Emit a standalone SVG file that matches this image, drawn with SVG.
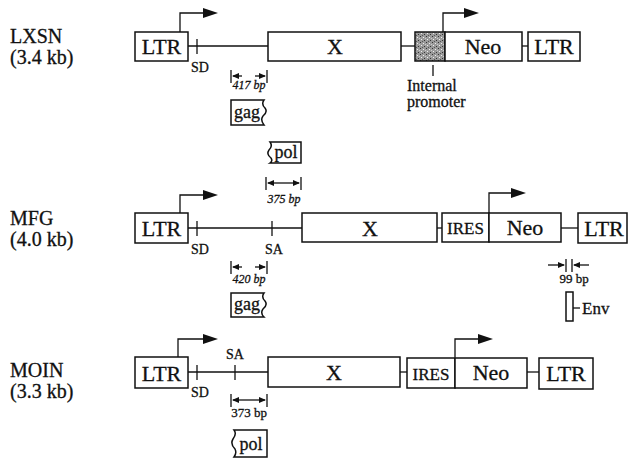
<svg xmlns="http://www.w3.org/2000/svg" width="628" height="459" viewBox="0 0 628 459">
<defs>
<style>
text{font-family:"Liberation Serif","Times New Roman",serif;fill:#111;stroke:#111;stroke-width:0.3}
.box{fill:#fff;stroke:#111;stroke-width:1.5}
.ln{stroke:#111;stroke-width:1.3;fill:none}
.big{font-size:22px}
.lab{font-size:20px}
.sm{font-size:14px}
.bp{font-size:12px;font-style:italic}
.mid{text-anchor:middle}
.head{fill:#111}
</style>
<pattern id="stip" width="6" height="6" patternUnits="userSpaceOnUse">
<rect width="6" height="6" fill="#9a9a9a"/>
<rect x="0" y="0" width="1" height="1" fill="#333"/>
<rect x="3" y="1" width="1" height="1" fill="#eee"/>
<rect x="1" y="3" width="1" height="1" fill="#eee"/>
<rect x="4" y="4" width="1" height="1" fill="#333"/>
<rect x="2" y="5" width="1" height="1" fill="#555"/>
<rect x="5" y="2" width="1" height="1" fill="#ccc"/>
</pattern>
</defs>

<!-- Left titles -->
<g id="title-lxsn"><text class="lab" x="10" y="43">LXSN</text><text class="lab" x="10" y="64">(3.4 kb)</text></g>
<g id="title-mfg"><text class="lab" x="10" y="225">MFG</text><text class="lab" x="10" y="246">(4.0 kb)</text></g>
<g id="title-moin"><text class="lab" x="10" y="377">MOIN</text><text class="lab" x="10" y="398">(3.3 kb)</text></g>

<!-- connectors / backbone lines -->
<g id="connectors">
<!-- LXSN -->
<line class="ln" x1="188" y1="46" x2="268" y2="46"/>
<line class="ln" x1="401" y1="46" x2="415" y2="46"/>
<line class="ln" x1="522" y1="46" x2="528" y2="46"/>
<line class="ln" x1="197" y1="39" x2="197" y2="54"/>
<line class="ln" x1="433" y1="65" x2="433" y2="76"/>
<path class="ln" d="M180,32 V13 H205"/><polygon class="head" points="203,8 218,13 203,18"/>
<path class="ln" d="M443,32 V13 H466"/><polygon class="head" points="464,8 479,13 464,18"/>
<!-- 417 bp -->
<line class="ln" x1="231" y1="70" x2="231" y2="83"/><line class="ln" x1="267" y1="70" x2="267" y2="83"/>
<line class="ln" x1="233" y1="76" x2="242" y2="76"/><polygon class="head" points="232,76 239,73 239,79"/>
<line class="ln" x1="255" y1="76" x2="265" y2="76"/><polygon class="head" points="266,76 259,73 259,79"/>
<!-- 375 bp -->
<line class="ln" x1="266" y1="177" x2="266" y2="190"/><line class="ln" x1="301" y1="177" x2="301" y2="190"/>
<line class="ln" x1="268" y1="183" x2="299" y2="183"/>
<polygon class="head" points="267,183 274,180 274,186"/><polygon class="head" points="300,183 293,180 293,186"/>

<!-- MFG -->
<line class="ln" x1="188" y1="228" x2="302" y2="228"/>
<line class="ln" x1="437" y1="228" x2="442" y2="228"/>
<line class="ln" x1="561" y1="228" x2="578" y2="228"/>
<line class="ln" x1="197" y1="221" x2="197" y2="236"/>
<line class="ln" x1="272" y1="221" x2="272" y2="236"/>
<path class="ln" d="M180,213 V195 H205"/><polygon class="head" points="203,190 218,195 203,200"/>
<path class="ln" d="M489,213 V193 H513"/><polygon class="head" points="511,188 526,193 511,198"/>
<!-- 420 bp -->
<line class="ln" x1="231" y1="261" x2="231" y2="274"/><line class="ln" x1="267" y1="261" x2="267" y2="274"/>
<line class="ln" x1="233" y1="267" x2="242" y2="267"/><polygon class="head" points="232,267 239,264 239,270"/>
<line class="ln" x1="255" y1="267" x2="265" y2="267"/><polygon class="head" points="266,267 259,264 259,270"/>
<!-- 99 bp -->
<line class="ln" x1="566" y1="259" x2="566" y2="272"/><line class="ln" x1="572" y1="259" x2="572" y2="272"/>
<line class="ln" x1="548" y1="265" x2="564" y2="265"/><polygon class="head" points="565,265 558,262 558,268"/>
<line class="ln" x1="574" y1="265" x2="589" y2="265"/><polygon class="head" points="573,265 580,262 580,268"/>
<line class="ln" x1="573" y1="308" x2="580" y2="308"/>

<!-- MOIN -->
<line class="ln" x1="188" y1="372" x2="268" y2="372"/>
<line class="ln" x1="400" y1="372" x2="407" y2="372"/>
<line class="ln" x1="527" y1="372" x2="539" y2="372"/>
<line class="ln" x1="197" y1="365" x2="197" y2="380"/>
<line class="ln" x1="235" y1="365" x2="235" y2="380"/>
<path class="ln" d="M178,357 V339 H205"/><polygon class="head" points="203,334 218,339 203,344"/>
<path class="ln" d="M455,357 V339 H480"/><polygon class="head" points="478,334 493,339 478,344"/>
<!-- 373 bp -->
<line class="ln" x1="231" y1="394" x2="231" y2="407"/><line class="ln" x1="267" y1="394" x2="267" y2="407"/>
<line class="ln" x1="233" y1="400" x2="265" y2="400"/>
<polygon class="head" points="232,400 239,397 239,403"/><polygon class="head" points="266,400 259,397 259,403"/>
</g>

<!-- LXSN nodes -->
<g id="lxsn-ltr5"><rect class="box" x="135" y="32" width="53" height="29"/><text class="big mid" x="161.5" y="54">LTR</text></g>
<g id="lxsn-x"><rect class="box" x="268" y="32" width="133" height="29"/><text class="big mid" x="335" y="54">X</text></g>
<g id="lxsn-promoter"><rect x="415" y="32" width="30" height="29" fill="url(#stip)" stroke="#111" stroke-width="1.5"/></g>
<g id="lxsn-neo"><rect class="box" x="445" y="32" width="77" height="29"/><text class="big mid" x="483" y="54">Neo</text></g>
<g id="lxsn-ltr3"><rect class="box" x="528" y="32" width="52" height="29"/><text class="big mid" x="554" y="54">LTR</text></g>
<g id="lxsn-labels">
<text class="sm mid" x="200" y="72">SD</text>
<text class="bp mid" x="249" y="89" font-size="11">417 bp</text>
<text x="407" y="91" font-size="16">Internal</text>
<text x="407" y="107" font-size="16">promoter</text>
</g>
<g id="lxsn-gag"><path class="box" d="M231,100 L264,100 Q261,104 265,108 Q268,112 263,116 Q260,120 264,125 L231,125 Z"/><text class="mid" x="247" y="118" font-size="18">gag</text></g>

<!-- MFG nodes -->
<g id="mfg-pol"><path class="box" d="M301,142 L270,142 Q273,146 269,150 Q266,154 271,158 Q273,161 270,163 L301,163 Z"/><text class="mid" x="286" y="158" font-size="18">pol</text></g>
<text class="bp mid" x="284" y="203" font-size="14">375 bp</text>
<g id="mfg-ltr5"><rect class="box" x="135" y="213" width="53" height="30"/><text class="big mid" x="161.5" y="236">LTR</text></g>
<g id="mfg-x"><rect class="box" x="302" y="213" width="135" height="29"/><text class="big mid" x="370" y="236">X</text></g>
<g id="mfg-ires"><rect class="box" x="442" y="213" width="47" height="29"/><text class="mid" x="465.5" y="234" font-size="17">IRES</text></g>
<g id="mfg-neo"><rect class="box" x="489" y="213" width="72" height="29"/><text class="big mid" x="525" y="235">Neo</text></g>
<g id="mfg-ltr3"><rect class="box" x="578" y="213" width="49" height="30"/><text class="big mid" x="604" y="236">LTR</text></g>
<g id="mfg-labels">
<text class="sm mid" x="200" y="254">SD</text>
<text class="sm mid" x="274" y="254">SA</text>
<text class="bp mid" x="249" y="283" font-size="12">420 bp</text>
<text class="mid" x="574" y="283" font-size="13">99 bp</text>
</g>
<g id="mfg-gag"><path class="box" d="M231,293 L264,293 Q261,297 265,301 Q268,305 263,309 Q260,313 264,317 L231,317 Z"/><text class="mid" x="247" y="310" font-size="18">gag</text></g>
<g id="mfg-env"><rect class="box" x="566" y="292" width="7" height="29"/><text x="582" y="314" font-size="17">Env</text></g>

<!-- MOIN nodes -->
<g id="moin-ltr5"><rect class="box" x="135" y="357" width="53" height="31"/><text class="big mid" x="161.5" y="381">LTR</text></g>
<g id="moin-x"><rect class="box" x="268" y="357" width="132" height="30"/><text class="big mid" x="334" y="380">X</text></g>
<g id="moin-ires"><rect class="box" x="407" y="358" width="48" height="30"/><text class="mid" x="431" y="380" font-size="17">IRES</text></g>
<g id="moin-neo"><rect class="box" x="455" y="358" width="72" height="30"/><text class="big mid" x="491" y="380">Neo</text></g>
<g id="moin-ltr3"><rect class="box" x="539" y="358" width="54" height="31"/><text class="big mid" x="566" y="381">LTR</text></g>
<g id="moin-labels">
<text class="sm mid" x="235" y="359">SA</text>
<text class="sm mid" x="200" y="397">SD</text>
<text class="mid" x="249" y="417" font-size="13">373 bp</text>
</g>
<g id="moin-pol"><path class="box" d="M267,430 L234,430 Q237,434 233,439 Q230,444 235,449 Q237,453 234,457 L267,457 Z"/><text class="mid" x="251" y="450" font-size="18">pol</text></g>
</svg>
